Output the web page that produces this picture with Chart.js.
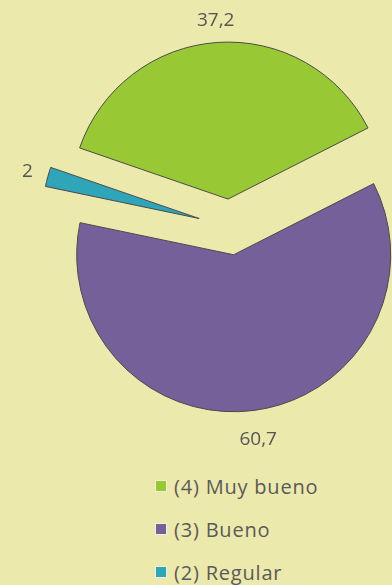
<!DOCTYPE html>
<html lang="es">
  <head>
    <meta charset="utf-8">
    <title>Pie</title>
    <script src="https://cdn.jsdelivr.net/npm/chart.js@4.4.0/dist/chart.umd.min.js"></script>
    <style>
      body { margin: 0; background: #ece9ac; font-family: "Open Sans", sans-serif; }
      #wrap { position: relative; width: 392px; height: 585px; overflow: hidden; }
      #legend { position: absolute; left: 155px; top: 473px; color: #5a5a5a; font-size: 20px; letter-spacing: 0.8px; line-height: 27px; }
      #legend div { height: 43px; display: flex; align-items: flex-start; }
      #legend span.box { width: 10px; height: 10px; margin: 7px 7px 0 0; border: 1px solid #f0f0dc; }
    </style>
  </head>
  <body>
    <div id="wrap">
      <canvas id="chart" width="392" height="470"></canvas>
      <div id="legend"></div>
    </div>
    <script>
      const categories = ['(4) Muy bueno', '(3) Bueno', '(2) Regular'];
      const values = [37.2, 60.7, 2];

      const colors = ['#98c934', '#75609a', '#2fa5ba'];
      const explode = [28, 28, 32];
      const labelRadius = [207, 214, 210];

      // move each slice out from the centre along its middle angle
      const explodePlugin = {
        id: 'explode',
        afterDatasetUpdate(chart, args) {
          args.meta.data.forEach((arc, i) => {
            const mid = (arc.startAngle + arc.endAngle) / 2;
            arc.cx = arc.x;
            arc.cy = arc.y;
            arc.x += Math.cos(mid) * explode[i];
            arc.y += Math.sin(mid) * explode[i];
          });
        }
      };

      const valuePlugin = {
        id: 'values',
        afterDatasetsDraw(chart) {
          const ctx = chart.ctx;
          ctx.save();
          ctx.font = '19px "Open Sans"';
          ctx.fillStyle = '#555';
          ctx.textAlign = 'center';
          ctx.textBaseline = 'middle';
          chart.getDatasetMeta(0).data.forEach((arc, i) => {
            const mid = (arc.startAngle + arc.endAngle) / 2;
            const x = arc.cx + Math.cos(mid) * labelRadius[i];
            const y = arc.cy + Math.sin(mid) * labelRadius[i];
            ctx.fillText(String(values[i]).replace('.', ','), x, y);
          });
          ctx.restore();
        }
      };

      const ctx = document.getElementById('chart').getContext('2d');
      const chart = new Chart(ctx, {
        type: 'pie',
        data: {
          labels: categories,
          datasets: [{
            data: values,
            backgroundColor: colors,
            borderColor: '#4a4a4a',
            borderWidth: 1,
            radius: 157,
            clip: false
          }]
        },
        options: {
          responsive: false,
          animation: false,
          rotation: -71,
          layout: { padding: { left: 68, right: 0, top: 0, bottom: 16 } },
          plugins: {
            legend: { display: false },
            tooltip: { enabled: false }
          }
        },
        plugins: [explodePlugin, valuePlugin]
      });

      const legend = document.getElementById('legend');
      categories.forEach((c, i) => {
        const row = document.createElement('div');
        row.innerHTML = '<span class="box" style="background:' + colors[i] + '"></span><span>' + c + '</span>';
        legend.appendChild(row);
      });
    </script>
  </body>
</html>
